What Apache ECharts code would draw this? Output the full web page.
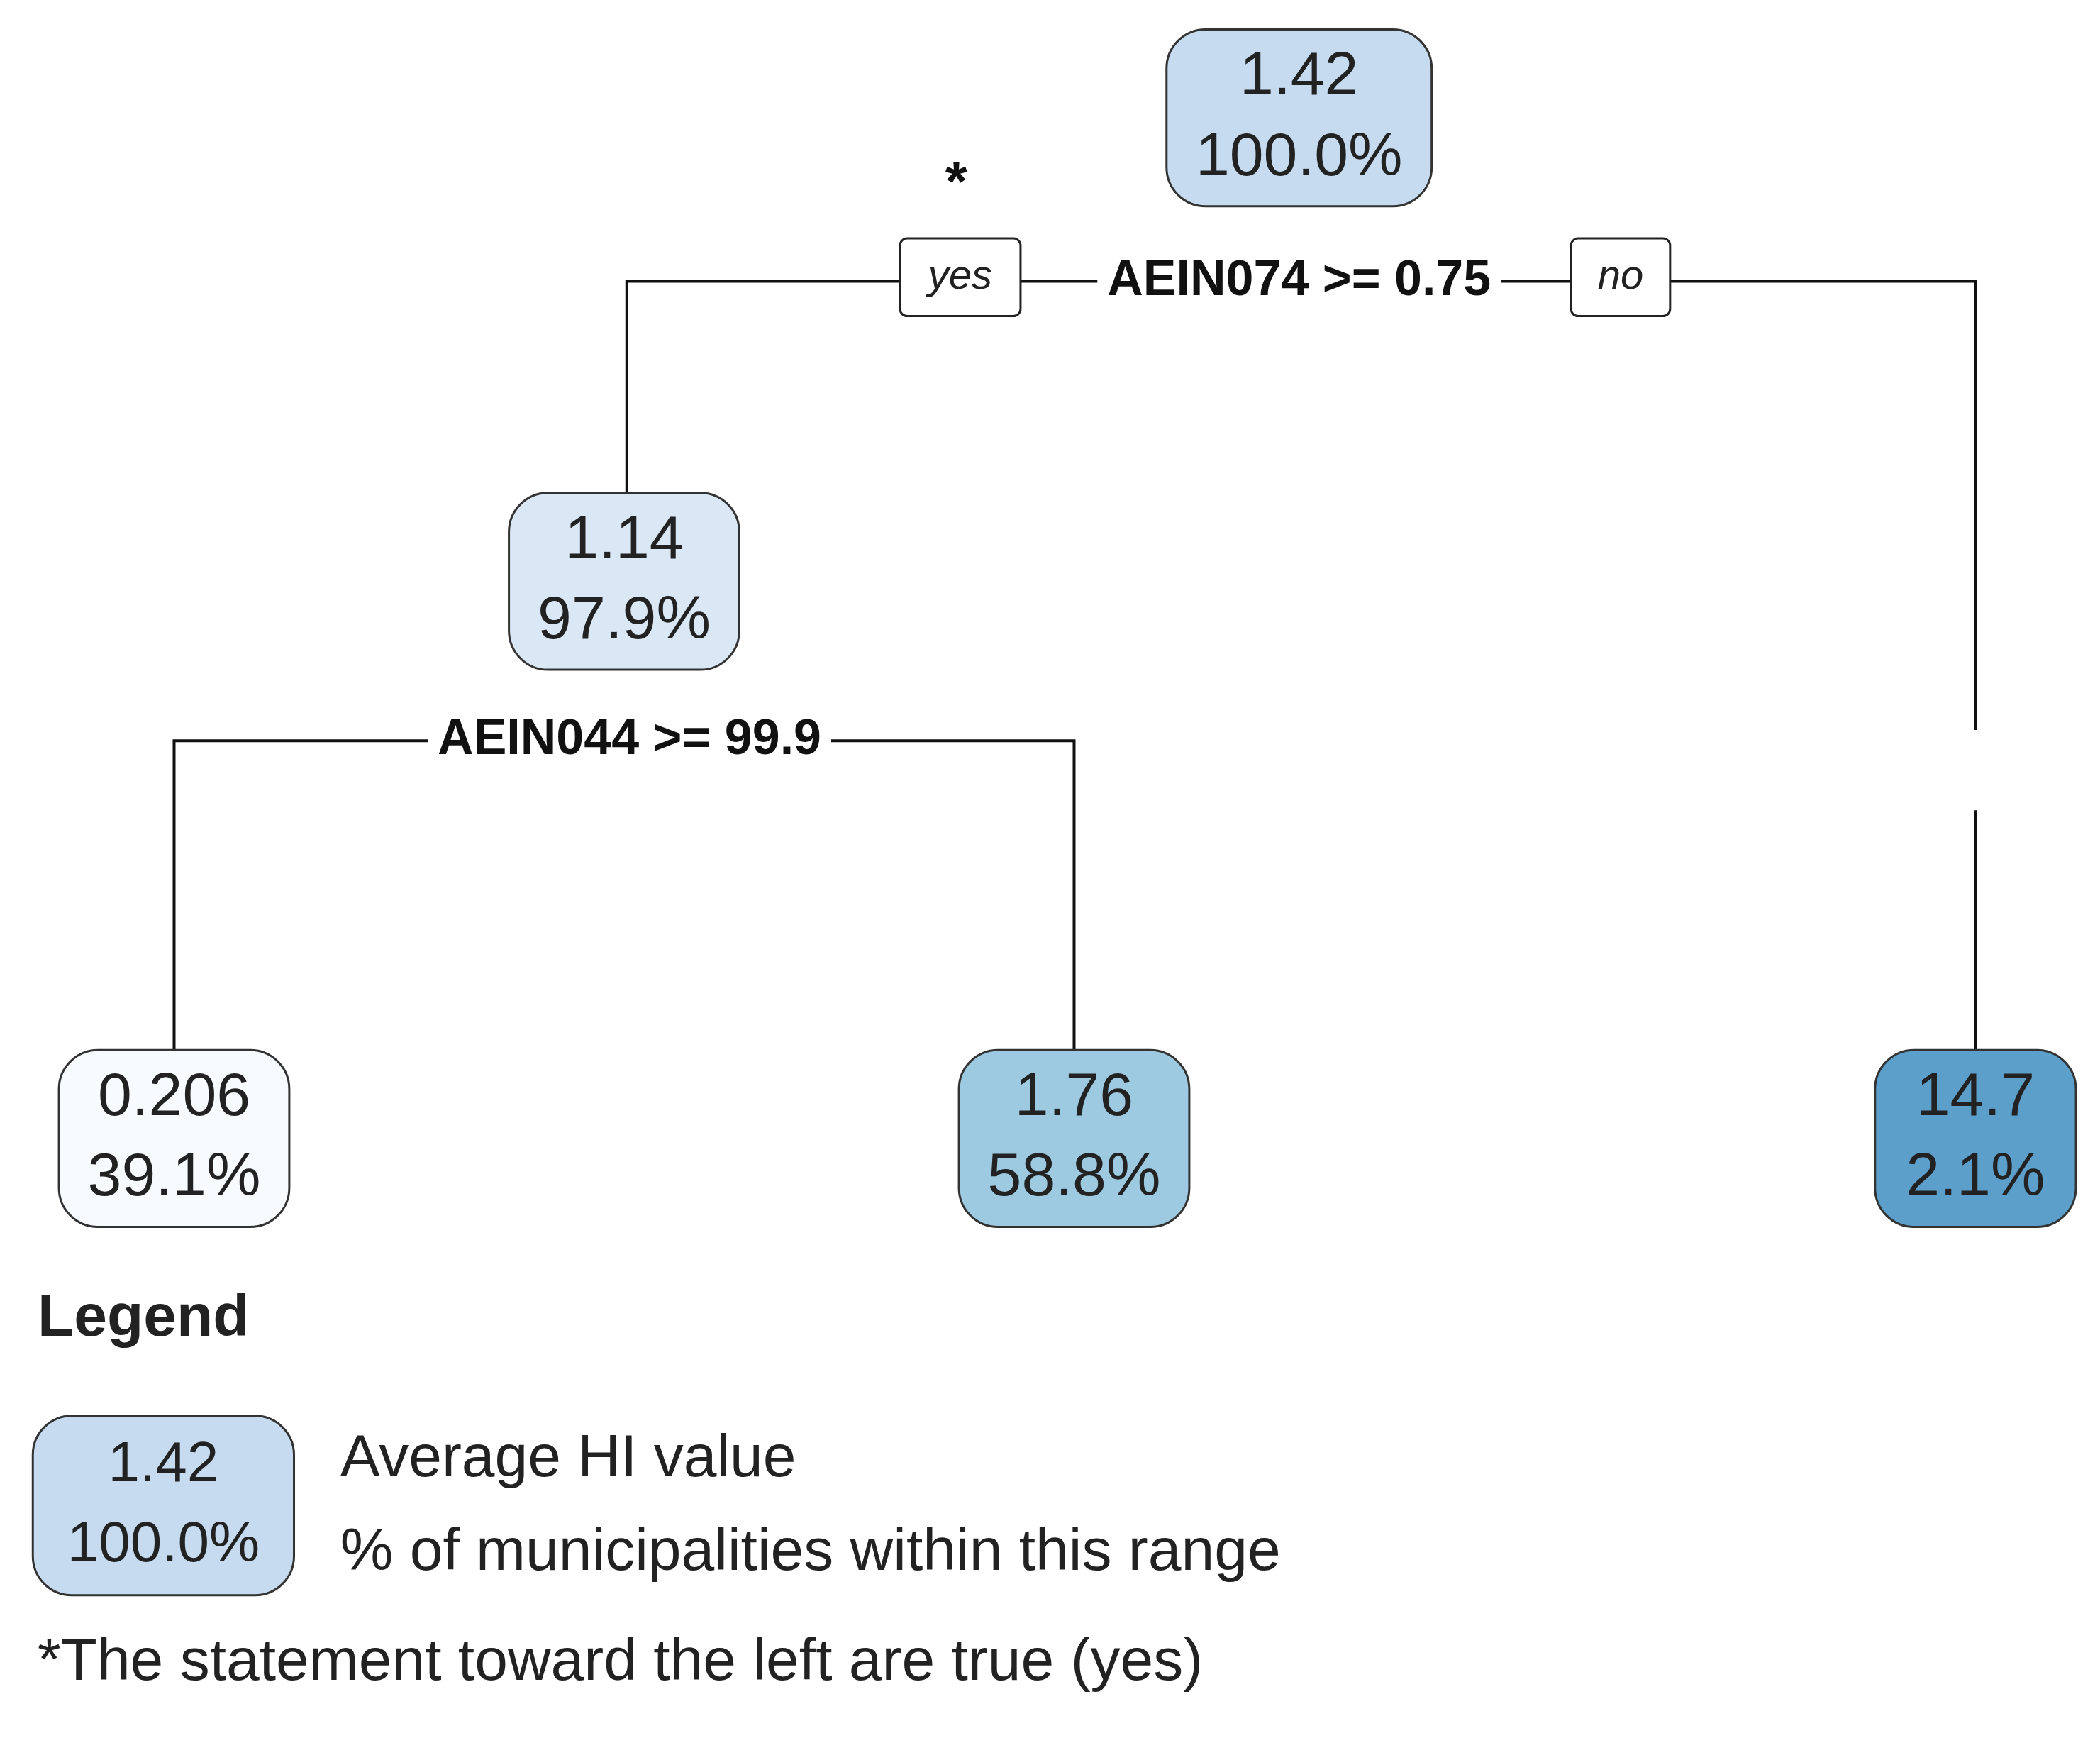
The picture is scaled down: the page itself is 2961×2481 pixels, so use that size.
<!DOCTYPE html>
<html><head><meta charset="utf-8">
<script src="https://cdn.jsdelivr.net/npm/echarts@6/dist/echarts.min.js"></script>
<style>html,body{margin:0;padding:0;background:#fff}#c{width:2961px;height:2481px}</style>
</head><body><div id="c"></div>
<script>
// node values (avg HI) and share of municipalities
var nodeValues = ['1.42', '1.14', '0.206', '1.76', '14.7'];
var nodeShares = ['100.0%', '97.9%', '39.1%', '58.8%', '2.1%'];
var nodeColors = ['#c6dbef', '#dae8f6', '#f7fbff', '#9ecae1', '#5c9fcb'];
// split rules
var splitLabels = ['AEIN074 >= 0.75', 'AEIN044 >= 99.9'];

// layout in a 1568 x 1314 reference frame
var nodePos = [[970, 88], [466, 434], [130, 850], [802, 850], [1475, 850]];
var nodeW = [198, 172, 172, 172, 150];
var nodeH = 132;
var splitPos = [[970, 210], [470, 553]];
var edges = [
  [[468, 368], [468, 210], [1475, 210], [1475, 545]],
  [[1475, 605], [1475, 785]],
  [[130, 785], [130, 553], [802, 553], [802, 785]]
];
var S = 2961 / 1568;

var chart = echarts.init(document.getElementById('c'));
var font = 'Arial, "Liberation Sans", sans-serif';

function nodeItem(params, api) {
  var i = params.dataIndex;
  var p = api.coord(nodePos[i]);
  var w = nodeW[i] * S, h = nodeH * S;
  return {
    type: 'group', children: [
      {type: 'rect', shape: {x: p[0] - w / 2, y: p[1] - h / 2, width: w, height: h, r: 55},
        style: {fill: nodeColors[i], stroke: '#333', lineWidth: 3}},
      {type: 'text', style: {x: p[0], y: p[1] - 30 * S, text: nodeValues[i], fill: '#222',
        font: 'normal 86px ' + font, textAlign: 'center', textVerticalAlign: 'middle'}},
      {type: 'text', style: {x: p[0], y: p[1] + 30 * S, text: nodeShares[i], fill: '#222',
        font: 'normal 86px ' + font, textAlign: 'center', textVerticalAlign: 'middle'}}
    ]
  };
}

function edgeItem(params, api) {
  var pts = edges[params.dataIndex].map(function (q) { return api.coord(q); });
  return {type: 'polyline', shape: {points: pts}, style: {stroke: '#111', lineWidth: 4, fill: null}};
}

function splitItem(params, api) {
  var i = params.dataIndex;
  var p = api.coord(splitPos[i]);
  var children = [{type: 'text', style: {x: p[0], y: p[1], text: splitLabels[i], fill: '#111',
    font: 'bold 70px ' + font, textAlign: 'center', textVerticalAlign: 'middle',
    backgroundColor: '#fff', padding: [4, 14]}}];
  if (i === 0) {
    [['yes', 717], ['no', 1210]].forEach(function (b) {
      var c = api.coord([b[1], 207]);
      var w = (b[0] === 'yes' ? 90 : 74) * S, h = 58 * S;
      children.push({type: 'rect', shape: {x: c[0] - w / 2, y: c[1] - h / 2, width: w, height: h, r: 10},
        style: {fill: '#fff', stroke: '#222', lineWidth: 3}});
      children.push({type: 'text', style: {x: c[0], y: c[1], text: b[0], fill: '#222',
        font: 'italic 58px ' + font, textAlign: 'center', textVerticalAlign: 'middle'}});
    });
    var a = api.coord([714, 138]);
    children.push({type: 'text', style: {x: a[0], y: a[1], text: '*', fill: '#111',
      font: 'bold 80px ' + font, textAlign: 'center', textVerticalAlign: 'middle'}});
  }
  return {type: 'group', children: children};
}

function legendItem(params, api) {
  var p = api.coord([122, 1124]);
  var w = 195 * S, h = 134 * S;
  var t = function (x, y, s, f) {
    var c = api.coord([x, y]);
    return {type: 'text', style: {x: c[0], y: c[1], text: s, fill: '#222', font: f,
      textAlign: 'left', textVerticalAlign: 'middle'}};
  };
  return {type: 'group', children: [
    t(28, 985, 'Legend', 'bold 84px ' + font),
    {type: 'rect', shape: {x: p[0] - w / 2, y: p[1] - h / 2, width: w, height: h, r: 55},
      style: {fill: nodeColors[0], stroke: '#333', lineWidth: 3}},
    {type: 'text', style: {x: p[0], y: p[1] - 30 * S, text: nodeValues[0], fill: '#222',
      font: 'normal 80px ' + font, textAlign: 'center', textVerticalAlign: 'middle'}},
    {type: 'text', style: {x: p[0], y: p[1] + 30 * S, text: nodeShares[0], fill: '#222',
      font: 'normal 80px ' + font, textAlign: 'center', textVerticalAlign: 'middle'}},
    t(254, 1090, 'Average HI value', 'normal 84px ' + font),
    t(254, 1160, '% of municipalities within this range', 'normal 84px ' + font),
    t(28, 1242, '*The statement toward the left are true (yes)', 'normal 84px ' + font)
  ]};
}

chart.setOption({
  animation: false,
  grid: {left: 0, right: 0, top: 0, bottom: 0},
  xAxis: {type: 'value', min: 0, max: 1568, show: false},
  yAxis: {type: 'value', min: 0, max: 1314, inverse: true, show: false},
  series: [
    {type: 'custom', renderItem: edgeItem, data: edges.map(function (e, i) { return [i]; }), z: 1},
    {type: 'custom', renderItem: splitItem, data: splitLabels.map(function (e, i) { return [i]; }), z: 2},
    {type: 'custom', renderItem: nodeItem, data: nodeValues.map(function (e, i) { return [i]; }), z: 3},
    {type: 'custom', renderItem: legendItem, data: [[0]], z: 3}
  ]
});
</script></body></html>
